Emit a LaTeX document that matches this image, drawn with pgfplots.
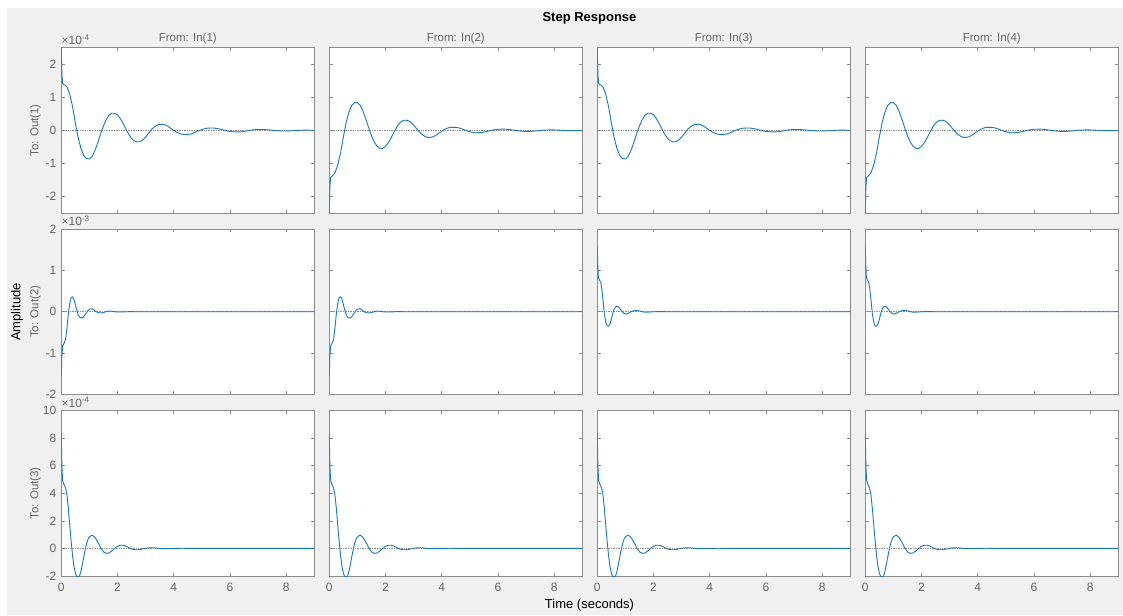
\documentclass[border=0pt]{standalone}
\usepackage{pgfplots}
\usepackage{pgfplotstable}
\pgfplotsset{compat=1.18}
\usepackage{fontspec}
\setmainfont{Liberation Sans}

\definecolor{figbg}{RGB}{240,240,240}
\definecolor{axcol}{RGB}{140,140,140}
\definecolor{lblcol}{RGB}{100,100,100}
\definecolor{resp}{RGB}{20,120,195}

% Step response, output 1 (units 1e-4)
\pgfplotstableread{
t y
0 2.5
0.02 1.7
0.05 1.42
0.1 1.38
0.15 1.36
0.2 1.32
0.3 1.1
0.4 0.72
0.5 0.22
0.6 -0.22
0.7 -0.55
0.8 -0.76
0.9 -0.85
1.0 -0.86
1.1 -0.78
1.2 -0.6
1.3 -0.36
1.4 -0.1
1.5 0.14
1.6 0.33
1.7 0.46
1.8 0.52
1.9 0.52
2.0 0.47
2.1 0.36
2.2 0.21
2.3 0.04
2.4 -0.12
2.5 -0.24
2.6 -0.32
2.7 -0.345
2.8 -0.34
2.9 -0.29
3.0 -0.2
3.1 -0.09
3.2 0.02
3.3 0.1
3.4 0.16
3.5 0.185
3.6 0.185
3.7 0.17
3.8 0.12
3.9 0.06
4.0 0.0
4.1 -0.05
4.2 -0.09
4.3 -0.115
4.4 -0.125
4.5 -0.12
4.6 -0.11
4.7 -0.08
4.8 -0.04
4.9 -0.005
5.0 0.03
5.2 0.07
5.4 0.075
5.6 0.05
5.8 0.01
6.0 -0.03
6.2 -0.045
6.4 -0.04
6.6 -0.015
6.8 0.015
7.0 0.03
7.2 0.028
7.4 0.015
7.6 -0.005
7.8 -0.015
8.0 -0.018
8.2 -0.01
8.4 0.0
8.6 0.008
8.8 0.008
9.0 0.003
}\rowoneA

\pgfplotstableread{
t y
0 -2.5
0.02 -1.7
0.05 -1.42
0.1 -1.38
0.15 -1.34
0.2 -1.28
0.3 -1.05
0.4 -0.68
0.5 -0.2
0.6 0.24
0.7 0.56
0.8 0.76
0.9 0.84
1.0 0.84
1.1 0.76
1.2 0.58
1.3 0.34
1.4 0.08
1.5 -0.16
1.6 -0.35
1.7 -0.48
1.8 -0.54
1.9 -0.54
2.0 -0.48
2.1 -0.37
2.2 -0.22
2.3 -0.05
2.4 0.1
2.5 0.22
2.6 0.29
2.7 0.31
2.8 0.3
2.9 0.25
3.0 0.16
3.1 0.06
3.2 -0.04
3.3 -0.12
3.4 -0.18
3.5 -0.21
3.6 -0.21
3.7 -0.19
3.8 -0.14
3.9 -0.08
4.0 -0.02
4.1 0.03
4.2 0.07
4.3 0.09
4.4 0.095
4.5 0.09
4.6 0.08
4.7 0.05
4.8 0.02
4.9 -0.01
5.0 -0.04
5.2 -0.07
5.4 -0.065
5.6 -0.03
5.8 0.01
6.0 0.035
6.2 0.04
6.4 0.03
6.6 0.005
6.8 -0.02
7.0 -0.03
7.2 -0.025
7.4 -0.01
7.6 0.008
7.8 0.015
8.0 0.015
8.2 0.008
8.4 -0.002
8.6 -0.008
8.8 -0.006
9.0 0
}\rowoneB

% Step response, output 2 (units 1e-3)
\pgfplotstableread{
t y
0 -1.56
0.02 -1.05
0.05 -0.82
0.1 -0.76
0.15 -0.68
0.2 -0.4
0.25 -0.05
0.3 0.2
0.35 0.34
0.4 0.36
0.45 0.3
0.5 0.18
0.55 0.04
0.6 -0.07
0.65 -0.13
0.7 -0.15
0.75 -0.15
0.8 -0.12
0.85 -0.07
0.9 -0.02
0.95 0.03
1.0 0.06
1.05 0.07
1.1 0.07
1.15 0.05
1.2 0.02
1.3 -0.02
1.4 -0.03
1.5 -0.02
1.6 0.005
1.7 0.015
1.8 0.012
1.9 0.0
2.0 -0.006
2.2 -0.004
2.4 0.002
2.8 0.0
9.0 0.0
}\rowtwoA

\pgfplotstableread{
t y
0 1.58
0.02 1.05
0.04 0.82
0.08 0.76
0.12 0.72
0.16 0.55
0.2 0.3
0.25 -0.05
0.3 -0.25
0.35 -0.34
0.4 -0.35
0.45 -0.3
0.5 -0.18
0.55 -0.04
0.6 0.06
0.65 0.12
0.7 0.13
0.75 0.12
0.8 0.08
0.85 0.03
0.9 -0.01
0.95 -0.04
1.0 -0.05
1.05 -0.05
1.1 -0.04
1.2 0.0
1.3 0.025
1.4 0.03
1.5 0.02
1.6 0.0
1.7 -0.01
1.8 -0.01
2.0 0.0
2.2 0.004
2.5 0.0
9.0 0.0
}\rowtwoC

% Step response, output 3 (units 1e-4)
\pgfplotstableread{
t y
0 8.35
0.02 6.0
0.05 4.9
0.1 4.6
0.15 4.4
0.2 3.9
0.25 2.9
0.3 1.7
0.35 0.5
0.4 -0.5
0.45 -1.3
0.5 -1.8
0.55 -2.05
0.6 -2.1
0.65 -2.0
0.7 -1.65
0.75 -1.15
0.8 -0.6
0.85 -0.1
0.9 0.35
0.95 0.65
1.0 0.85
1.1 0.96
1.2 0.8
1.3 0.45
1.4 0.05
1.5 -0.25
1.6 -0.36
1.7 -0.33
1.8 -0.18
1.9 0.0
2.0 0.15
2.1 0.23
2.2 0.23
2.3 0.16
2.4 0.06
2.5 -0.04
2.6 -0.09
2.7 -0.1
2.8 -0.08
2.9 -0.04
3.0 0.0
3.1 0.04
3.2 0.05
3.3 0.045
3.4 0.02
3.6 -0.02
3.8 -0.015
4.0 0.005
4.3 0.01
4.7 0.0
9.0 0.0
}\rowthree

\pgfplotsset{
  panel/.style={
    scale only axis, width=253pt, height=165.5pt,
    anchor=north west,
    axis background/.style={fill=white},
    xmin=0, xmax=9, xtick={0,2,4,6,8},
    xticklabels={}, yticklabels={},
    axis line style={axcol, line width=0.6pt},
    tick style={axcol, line width=0.6pt},
    major tick length=3.2pt,
    ticklabel style={font=\fontsize{12}{14}\selectfont, text=lblcol},
    xticklabel style={yshift=-4pt},
    yticklabel style={xshift=-1.5pt},
  },
  rowA/.style={ymin=-2.5, ymax=2.5, ytick={-2,-1,0,1,2}},
  rowB/.style={ymin=-2, ymax=2, ytick={-2,-1,0,1,2}},
  rowC/.style={ymin=-2, ymax=10, ytick={-2,0,2,4,6,8,10}},
  zeroline/.style={axcol, densely dotted, line width=0.7pt},
  curve/.style={resp, line width=0.9pt},
}

\begin{document}
\begin{tikzpicture}[x=1pt,y=1pt]
\useasboundingbox (0,0) rectangle (1123,615);
\fill[figbg] (7,0) rectangle (1123,607);

% ---- Out(1)
\begin{axis}[panel, rowA, at={(61.3pt,567.3pt)}, yticklabels={-2,-1,0,1,2}]
\addplot[zeroline] coordinates {(0,0) (9,0)};
\addplot[curve] table[x=t,y=y] {\rowoneA};
\end{axis}
\begin{axis}[panel, rowA, at={(329.3pt,567.3pt)}]
\addplot[zeroline] coordinates {(0,0) (9,0)};
\addplot[curve] table[x=t,y=y] {\rowoneB};
\end{axis}
\begin{axis}[panel, rowA, at={(597.3pt,567.3pt)}]
\addplot[zeroline] coordinates {(0,0) (9,0)};
\addplot[curve] table[x=t,y=y] {\rowoneA};
\end{axis}
\begin{axis}[panel, rowA, at={(865.3pt,567.3pt)}]
\addplot[zeroline] coordinates {(0,0) (9,0)};
\addplot[curve] table[x=t,y=y] {\rowoneB};
\end{axis}

% ---- Out(2)
\begin{axis}[panel, rowB, at={(61.3pt,386pt)}, yticklabels={-2,-1,0,1,2}]
\addplot[zeroline] coordinates {(0,0) (9,0)};
\addplot[curve] table[x=t,y=y] {\rowtwoA};
\end{axis}
\begin{axis}[panel, rowB, at={(329.3pt,386pt)}]
\addplot[zeroline] coordinates {(0,0) (9,0)};
\addplot[curve] table[x=t,y=y] {\rowtwoA};
\end{axis}
\begin{axis}[panel, rowB, at={(597.3pt,386pt)}]
\addplot[zeroline] coordinates {(0,0) (9,0)};
\addplot[curve] table[x=t,y=y] {\rowtwoC};
\end{axis}
\begin{axis}[panel, rowB, at={(865.3pt,386pt)}]
\addplot[zeroline] coordinates {(0,0) (9,0)};
\addplot[curve] table[x=t,y=y] {\rowtwoC};
\end{axis}

% ---- Out(3)
\begin{axis}[panel, rowC, at={(61.3pt,204.5pt)}, yticklabels={-2,0,2,4,6,8,10}, xticklabels={0,2,4,6,8}]
\addplot[zeroline] coordinates {(0,0) (9,0)};
\addplot[curve] table[x=t,y=y] {\rowthree};
\end{axis}
\begin{axis}[panel, rowC, at={(329.3pt,204.5pt)}, xticklabels={0,2,4,6,8}]
\addplot[zeroline] coordinates {(0,0) (9,0)};
\addplot[curve] table[x=t,y=y] {\rowthree};
\end{axis}
\begin{axis}[panel, rowC, at={(597.3pt,204.5pt)}, xticklabels={0,2,4,6,8}]
\addplot[zeroline] coordinates {(0,0) (9,0)};
\addplot[curve] table[x=t,y=y] {\rowthree};
\end{axis}
\begin{axis}[panel, rowC, at={(865.3pt,204.5pt)}, xticklabels={0,2,4,6,8}]
\addplot[zeroline] coordinates {(0,0) (9,0)};
\addplot[curve] table[x=t,y=y] {\rowthree};
\end{axis}

% ---- exponent labels
\begin{scope}[every node/.style={text=lblcol, font=\fontsize{12}{14}\selectfont, inner sep=0pt, anchor=base west}]
\node at (61.5,570.5) {×10\textsuperscript{-4}};
\node at (61.5,389.2) {×10\textsuperscript{-3}};
\node at (61.5,207.7) {×10\textsuperscript{-4}};
\end{scope}

% ---- input / output labels
\begin{scope}[every node/.style={text=lblcol, font=\fontsize{11.5}{13}\selectfont, inner sep=0pt}]
\node at (187.8,576.7) {From: In(1)};
\node at (455.8,576.7) {From: In(2)};
\node at (723.8,576.7) {From: In(3)};
\node at (991.8,576.7) {From: In(4)};
\node[rotate=90] at (35.5,484.6) {To: Out(1)};
\node[rotate=90] at (35.5,303.2) {To: Out(2)};
\node[rotate=90] at (35.5,121.7) {To: Out(3)};
\end{scope}

% ---- figure labels
\node[font=\fontsize{13}{15}\selectfont\bfseries, inner sep=0pt] at (589.5,597) {Step Response};
\node[font=\fontsize{13}{15}\selectfont, inner sep=0pt] at (589.5,10) {Time (seconds)};
\node[font=\fontsize{13}{15}\selectfont, inner sep=0pt, rotate=90] at (17,303) {Amplitude};
\end{tikzpicture}
\end{document}
